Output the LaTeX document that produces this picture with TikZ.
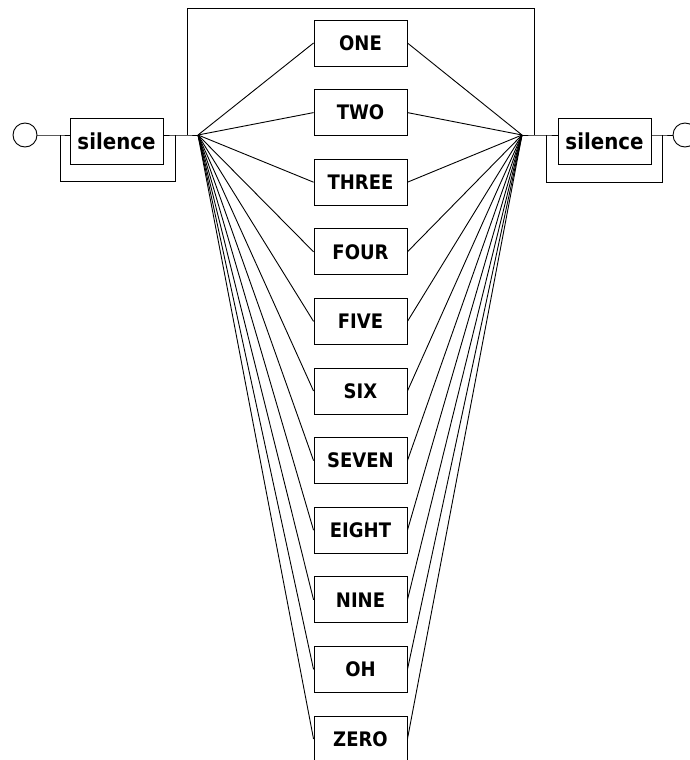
\documentclass[tikz,border=0pt]{standalone}
\usepackage{fontspec}
\newfontfamily\labfont{DejaVu Sans}[FakeStretch=0.9]
\begin{document}
\begin{tikzpicture}[x=1pt,y=-1pt,line width=0.9pt,
  wordbox/.style={draw,minimum width=93pt,minimum height=46pt,inner sep=0pt,
    font=\labfont\bfseries\fontsize{20}{22}\selectfont},
  silbox/.style={draw,minimum width=93pt,minimum height=46pt,inner sep=0pt,
    font=\labfont\bfseries\fontsize{22}{24}\selectfont},
  endcircle/.style={draw,circle,minimum size=24pt,inner sep=0pt}]
\useasboundingbox (0,0) rectangle (689,760);
% end circles
\node[endcircle] (c1) at (25,135) {};
\node[endcircle] (c2) at (685,135) {};
% silence boxes
\node[silbox] (s1) at (116.5,141) {silence};
\node[silbox] (s2) at (604.5,141) {silence};
% junctions
\coordinate (ja) at (60,135);
\coordinate (jb) at (175,135);
\coordinate (jt) at (187,135);
\coordinate (F1) at (198,135);
\coordinate (F2) at (522,135);
\coordinate (jt2) at (534,135);
\coordinate (jc) at (546,135);
\coordinate (jd) at (662,135);
\coordinate (ba) at (60,181);
\coordinate (bb) at (175,181);
\coordinate (ta) at (187,8);
\coordinate (tb) at (534,8);
\coordinate (bc) at (546,182);
\coordinate (bd) at (662,182);
% left part
\draw (c1.east) -- (ja) -- (s1.west |- ja);
\draw (s1.east |- jb) -- (jb) -- (jt) -- (F1);
\draw (ja) -- (ba) -- (bb) -- (jb);
% top loop
\draw (jt) -- (ta) -- (tb) -- (jt2);
% right part
\draw (F2) -- (jt2) -- (jc) -- (s2.west |- jc);
\draw (s2.east |- jd) -- (jd) -- (c2.west);
\draw (jc) -- (bc) -- (bd) -- (jd);
% word boxes
\foreach \w [count=\k from 0] in {ONE,TWO,THREE,FOUR,FIVE,SIX,SEVEN,EIGHT,NINE,OH,ZERO}{
  \node[wordbox] (w\k) at (360.5,{43+69.6*\k}) {\w};
  \draw (F1) -- (w\k.west);
  \draw (w\k.east) -- (F2);
}
\end{tikzpicture}
\end{document}
